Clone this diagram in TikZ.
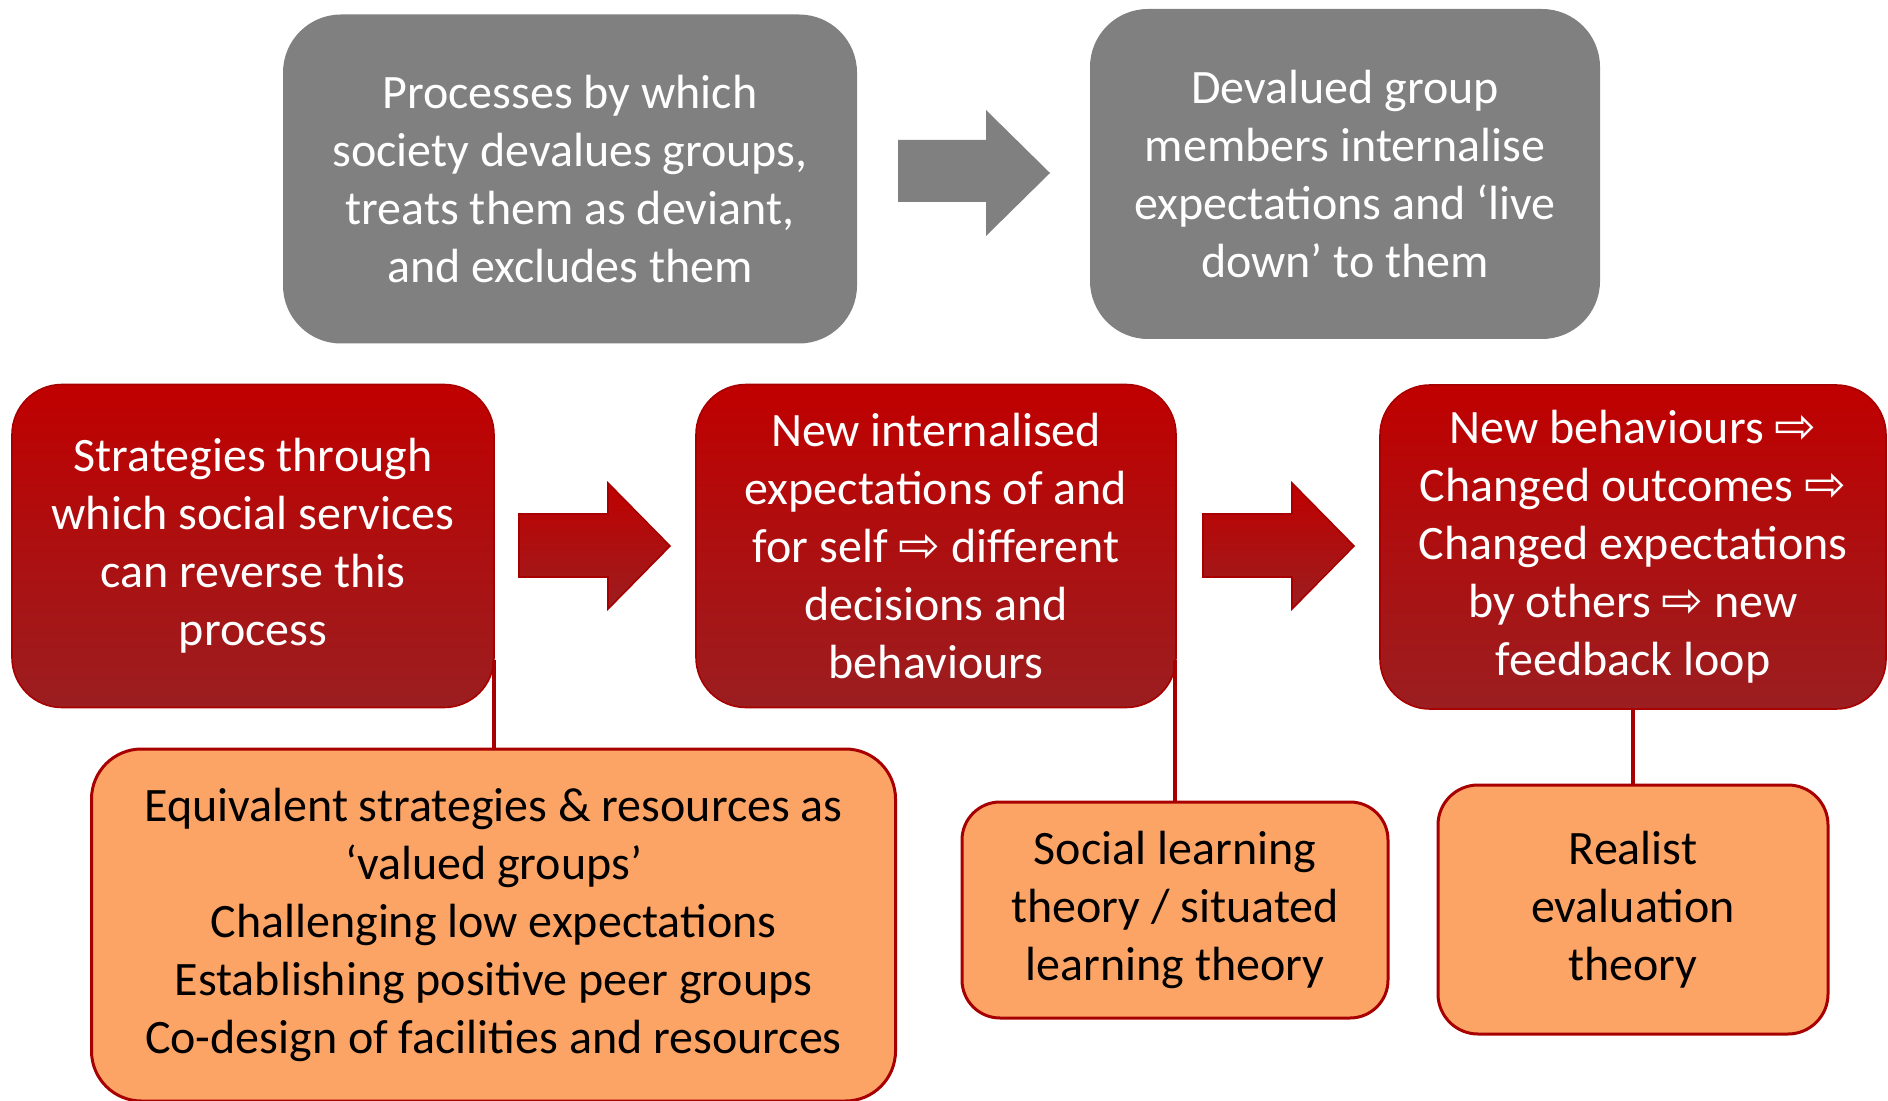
\documentclass[tikz,border=0pt]{standalone}
\usepackage{fontspec}
\setmainfont{Carlito}
\newfontfamily\symfont{DejaVu Sans}
\usetikzlibrary{shapes,arrows}
\definecolor{boxgray}{RGB}{128,128,128}
\definecolor{redtop}{RGB}{192,0,0}
\definecolor{redbot}{RGB}{155,30,32}
\definecolor{redline}{RGB}{168,0,0}
\definecolor{orangefill}{RGB}{252,164,102}
\newcommand{\thenarr}{{\symfont\fontsize{25}{29}\selectfont ⇨}}
\tikzstyle{graybox} = [rectangle, rounded corners=29pt, fill=boxgray, text=white, align=center, inner sep=0pt]
\tikzstyle{redbox} = [rectangle, rounded corners=25pt, draw=redline, line width=0.8pt, top color=redtop, bottom color=redbot, text=white, align=center, inner sep=0pt]
\tikzstyle{orangebox} = [rectangle, draw=redline, line width=1.5pt, fill=orangefill, text=black, align=center, inner sep=0pt]
\tikzstyle{grayarrow} = [draw=none, fill=boxgray]
\tikzstyle{redarrow} = [draw=redline, line width=0.8pt, top color=redtop, bottom color=redbot]
\tikzstyle{link} = [draw=redline, line width=2pt]

\begin{document}
\begin{tikzpicture}[x=0.5pt, y=-0.5pt, font=\fontsize{24}{29}\selectfont]
        \useasboundingbox (0,0) rectangle (1888,1101);
        % top row
        \node (society) [graybox, minimum width=287pt, minimum height=164.5pt] at (570,179) {Processes by which\\society devalues groups,\\treats them as deviant,\\and excludes them};
        \node (members) [graybox, minimum width=255pt, minimum height=165pt] at (1345,174) {Devalued group\\members internalise\\expectations and ‘live\\down’ to them};
        \draw [grayarrow] (898,140) -- (986,140) -- (986,110) -- (1050,173) -- (986,236) -- (986,202) -- (898,202) -- cycle;

        % middle row
        \node (strategies) [redbox, minimum width=241pt, minimum height=161.5pt] at (253,546) {Strategies through\\which social services\\can reverse this\\process};
        \node (selfexp) [redbox, minimum width=240pt, minimum height=161.5pt] at (936,546) {New internalised\\expectations of and\\for self \thenarr{} different\\decisions and\\behaviours};
        \node (feedback) [redbox, minimum width=253pt, minimum height=162pt] at (1633,547) {New behaviours \thenarr\\Changed outcomes \thenarr\\Changed expectations\\by others \thenarr{} new\\feedback loop};
        \draw [redarrow] (519,514) -- (608,514) -- (608,483) -- (670,546) -- (608,609) -- (608,577) -- (519,577) -- cycle;
        \draw [redarrow] (1203,514) -- (1292,514) -- (1292,483) -- (1354,546) -- (1292,609) -- (1292,577) -- (1203,577) -- cycle;

        % bottom row
        \node (resources) [orangebox, rounded corners=25pt, minimum width=402pt, minimum height=176pt] at (493.5,925) {Equivalent strategies \& resources as\\‘valued groups’\\Challenging low expectations\\Establishing positive peer groups\\Co-design of facilities and resources};
        \node (learning) [orangebox, rounded corners=19pt, minimum width=213pt, minimum height=108pt] at (1175,910) {Social learning\\theory / situated\\learning theory};
        \node (realist) [orangebox, rounded corners=20pt, minimum width=195pt, minimum height=124.5pt] at (1633,909.5) {Realist\\evaluation\\theory};

        \coordinate (tap1) at (493.5,660);
        \coordinate (tap2) at (1175,660);
        \draw [link] (tap1) -- (resources.north);
        \draw [link] (tap2) -- (learning.north);
        \draw [link] (feedback.south) -- (realist.north);
\end{tikzpicture}
\end{document}
